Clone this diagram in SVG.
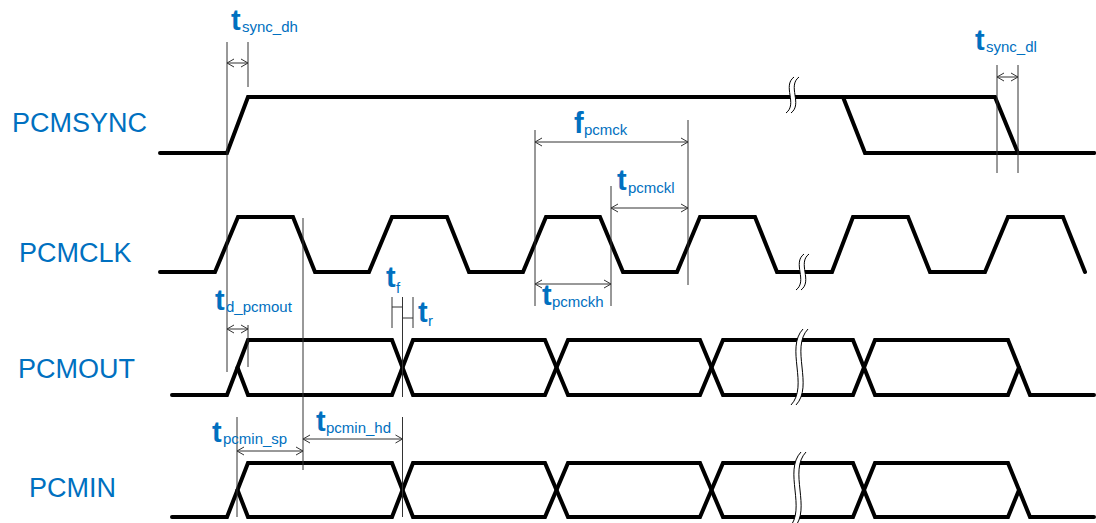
<svg xmlns="http://www.w3.org/2000/svg" width="1096" height="523" viewBox="0 0 1096 523">
<style>
.w{fill:none;stroke:#000;stroke-width:4;stroke-linejoin:miter;stroke-linecap:round}
.g{fill:none;stroke:#333;stroke-width:1}
.lbl{font-family:"Liberation Sans",Arial,sans-serif;font-size:27px;fill:#0070C0}
.t{font-family:"Liberation Sans",Arial,sans-serif;font-size:29px;font-weight:bold;fill:#0070C0}
.s{font-family:"Liberation Sans",Arial,sans-serif;font-size:15px;fill:#0070C0}
.brk{fill:#fff;stroke:none}
.bl{fill:none;stroke:#000;stroke-width:1}
</style>
<defs>
<marker id="ah" viewBox="-8 -5 9 10" markerWidth="9" markerHeight="10" refX="0" refY="0" orient="auto-start-reverse" markerUnits="userSpaceOnUse">
<path d="M-7,-4 L0,0 L-7,4" fill="none" stroke="#333" stroke-width="1"/>
</marker>
</defs>
<rect width="1096" height="523" fill="#fff"/>
<g id="labels">
<text class="lbl" x="12" y="132">PCMSYNC</text>
<text class="lbl" x="19" y="262">PCMCLK</text>
<text class="lbl" x="18" y="378">PCMOUT</text>
<text class="lbl" x="29" y="497">PCMIN</text>
</g>
<g id="pcmsync">
<path class="w" d="M160,153 L227,153 L248,97 L995,97 L1018,153 L1094,153"/>
<path class="w" d="M843,97 L865,153 L1094,153"/>
</g>
<g id="pcmclk">
<path class="w" d="M160,272 L215,272 L238,217 L293,217 L315,272 L369,272 L392,217 L447,217 L469,272 L523,272 L546,217 L600,217 L623,272 L677,272 L700,217 L755,217 L777,272 L832,272 L853,217 L908,217 L930,272 L985,272 L1008,217 L1063,217 L1085,272"/>
</g>
<g id="pcmout">
<path class="w" d="M172,395 L227,395 L248,340 L392,340 L413,395 L545,395 L568,340 L700,340 L723,395 L853,395 L875,340 L1008,340 L1030,395 L1094,395"/>
<path class="w" d="M237.5,367.5 L248,395 L392,395 L413,340 L545,340 L568,395 L700,395 L723,340 L853,340 L875,395 L1008,395 L1019,367.5"/>
</g>
<g id="pcmin">
<path class="w" d="M172,517 L227,517 L248,463 L392,463 L413,517 L545,517 L568,463 L700,463 L723,517 L853,517 L875,463 L1008,463 L1030,517 L1094,517"/>
<path class="w" d="M237.5,490 L248,517 L392,517 L413,463 L545,463 L568,517 L700,517 L723,463 L853,463 L875,517 L1008,517 L1019,490"/>
</g>
<g id="breaks">
<g transform="translate(790,95)">
<path class="brk" d="M4,-18 C-8,-9 8,9 -4,18 L1,18 C13,9 -3,-9 9,-18 Z"/>
<path class="bl" d="M4,-18 C-8,-9 8,9 -4,18"/>
<path class="bl" d="M9,-18 C-3,-9 13,9 1,18"/>
</g>
<g transform="translate(800,272)">
<path class="brk" d="M4,-18 C-8,-9 8,9 -4,18 L1,18 C13,9 -3,-9 9,-18 Z"/>
<path class="bl" d="M4,-18 C-8,-9 8,9 -4,18"/>
<path class="bl" d="M9,-18 C-3,-9 13,9 1,18"/>
</g>
<g transform="translate(797,367)">
<path class="brk" d="M6,-38 C-12,-19 12,19 -6,38 L-1,38 C17,19 -7,-19 11,-38 Z"/>
<path class="bl" d="M6,-38 C-12,-19 12,19 -6,38"/>
<path class="bl" d="M11,-38 C-7,-19 17,19 -1,38"/>
</g>
<g transform="translate(795,490)">
<path class="brk" d="M6,-38 C-12,-19 12,19 -6,38 L-1,38 C17,19 -7,-19 11,-38 Z"/>
<path class="bl" d="M6,-38 C-12,-19 12,19 -6,38"/>
<path class="bl" d="M11,-38 C-7,-19 17,19 -1,38"/>
</g>
</g>
<g id="connectors">
<path class="g" d="M227,42 V372 M248,42 V87 M997,65 V173 M1018,65 V173 M535,130 V306 M611,186 V306 M688,120 V285 M303,218 V470 M248,325 V367 M392,297 V328 M402.5,297 V397 M413,297 V328 M392,307 H402.5 M402.5,318 H413 M402.5,417 V517 M237,417 V517"/>
<line class="g" x1="227" y1="63" x2="248" y2="63" marker-start="url(#ah)" marker-end="url(#ah)"/>
<line class="g" x1="997" y1="77" x2="1018" y2="77" marker-start="url(#ah)" marker-end="url(#ah)"/>
<line class="g" x1="535" y1="142" x2="688" y2="142" marker-start="url(#ah)" marker-end="url(#ah)"/>
<line class="g" x1="611" y1="208" x2="688" y2="208" marker-start="url(#ah)" marker-end="url(#ah)"/>
<line class="g" x1="535" y1="284" x2="611" y2="284" marker-start="url(#ah)" marker-end="url(#ah)"/>
<line class="g" x1="227" y1="329" x2="248" y2="329" marker-start="url(#ah)" marker-end="url(#ah)"/>
<line class="g" x1="237" y1="451" x2="303" y2="451" marker-start="url(#ah)" marker-end="url(#ah)"/>
<line class="g" x1="303" y1="439" x2="402.5" y2="439" marker-start="url(#ah)" marker-end="url(#ah)"/>
</g>
<g id="timing-labels">
<text class="t" x="231" y="30">t</text><text class="s" x="242" y="32">sync_dh</text>
<text class="t" x="975" y="50">t</text><text class="s" x="986" y="52">sync_dl</text>
<text class="t" x="574" y="133">f</text><text class="s" x="584" y="135">pcmck</text>
<text class="t" x="617" y="190">t</text><text class="s" x="628" y="193">pcmckl</text>
<text class="t" x="542" y="305">t</text><text class="s" x="552" y="307">pcmckh</text>
<text class="t" x="215" y="310">t</text><text class="s" x="226" y="312">d_pcmout</text>
<text class="t" x="386" y="287">t</text><text class="s" x="396" y="293">f</text>
<text class="t" x="418" y="322">t</text><text class="s" x="428" y="326">r</text>
<text class="t" x="212" y="442">t</text><text class="s" x="223" y="444">pcmin_sp</text>
<text class="t" x="316" y="431">t</text><text class="s" x="326" y="433">pcmin_hd</text>
</g>
</svg>
